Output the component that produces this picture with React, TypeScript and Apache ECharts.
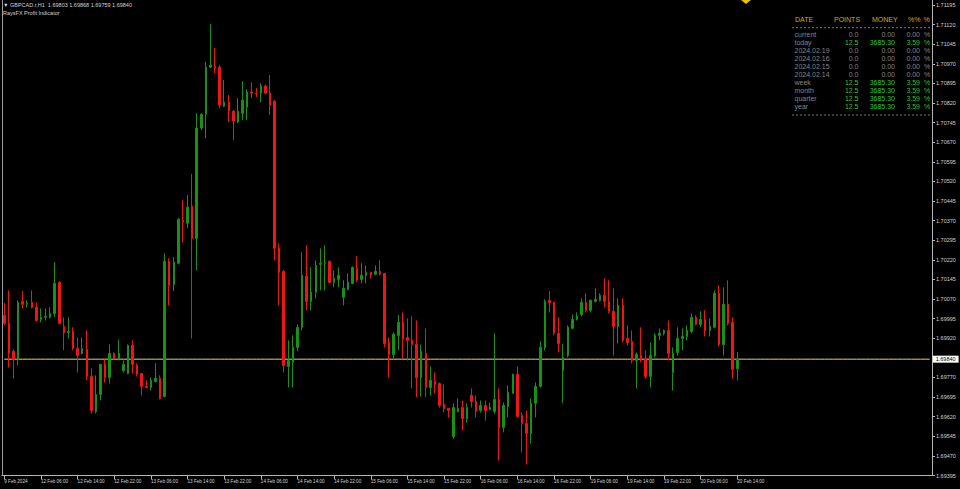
import React, { useEffect, useRef } from "react";
import * as echarts from "echarts";

const SYMBOL = "GBPCAD.r,H1";
const INDICATOR = "RaysFX Profit Indicator";
const BASE = 1.69395;
const TICK_STEP = 0.00075;
const TOP_PRICE = 1.71214;
const TOTAL_SLOTS = 203;

const opens = [
  1.70008, 1.69977, 1.6987, 1.69839, 1.70061, 1.7005, 1.70057, 1.70038, 1.69992, 1.7, 1.7, 1.70015, 1.70134, 1.69965, 1.69942, 1.69946, 1.69881, 1.69862, 1.69877, 1.69774,
  1.6964, 1.69705, 1.6982, 1.6977, 1.69862, 1.69843, 1.69797, 1.69785, 1.69893, 1.69816, 1.69785, 1.69736, 1.69732, 1.69755, 1.69766, 1.69697, 1.70214, 1.70126, 1.70207, 1.70371,
  1.7036, 1.70425, 1.70302, 1.70724, 1.70777, 1.70957, 1.70961, 1.70957, 1.70808, 1.70823, 1.70789, 1.70747, 1.70781, 1.70804, 1.70862, 1.70858, 1.70858, 1.70885, 1.70858, 1.70827,
  1.70264, 1.70176, 1.69812, 1.69828, 1.69885, 1.69962, 1.70157, 1.70061, 1.70096, 1.70203, 1.70207, 1.70214, 1.70134, 1.70145, 1.70077, 1.70107, 1.7013, 1.70188, 1.70145, 1.70161,
  1.70172, 1.70165, 1.70176, 1.70168, 1.69904, 1.69858, 1.69931, 1.69981, 1.69923, 1.69912, 1.69896, 1.6977, 1.69862, 1.69732, 1.69755, 1.69747, 1.69667, 1.69651, 1.69544, 1.6964,
  1.69655, 1.69613, 1.69701, 1.69678, 1.69644, 1.69663, 1.69648, 1.6964, 1.69686, 1.69579, 1.69659, 1.69709, 1.69782, 1.69625, 1.69594, 1.69556, 1.69671, 1.69736, 1.69885, 1.70065,
  1.70057, 1.69939, 1.69797, 1.69854, 1.69958, 1.69992, 1.70011, 1.70057, 1.70027, 1.70061, 1.70065, 1.70084, 1.70061, 1.70023, 1.69965, 1.70046, 1.69919, 1.69908, 1.69835, 1.69854,
  1.69843, 1.69774, 1.69854, 1.69931, 1.69939, 1.6995, 1.69789, 1.69866, 1.69919, 1.69927, 1.69946, 1.7, 1.69973, 1.69992, 1.6995, 1.69962, 1.70092, 1.69896, 1.7005, 1.69981,
  1.69803,
];
const highs = [
  1.70054, 1.70103, 1.69877, 1.70065, 1.701, 1.70065, 1.70103, 1.70057, 1.70034, 1.70034, 1.70038, 1.70211, 1.70138, 1.7, 1.7, 1.69962, 1.69923, 1.69923, 1.6995, 1.69805,
  1.69778, 1.6982, 1.69839, 1.69896, 1.69866, 1.69915, 1.69835, 1.69896, 1.69912, 1.69824, 1.69785, 1.69759, 1.6977, 1.69824, 1.69778, 1.70245, 1.70226, 1.7023, 1.70379, 1.70448,
  1.70467, 1.70548, 1.70781, 1.70781, 1.70977, 1.71122, 1.7103, 1.70965, 1.70908, 1.7085, 1.70793, 1.70839, 1.70904, 1.70873, 1.709, 1.70877, 1.70896, 1.70889, 1.70927, 1.70831,
  1.70283, 1.7018, 1.69912, 1.69931, 1.69973, 1.70249, 1.70276, 1.70191, 1.70218, 1.70264, 1.70276, 1.70218, 1.7018, 1.70191, 1.70142, 1.70168, 1.70195, 1.70234, 1.70207, 1.70199,
  1.70172, 1.70199, 1.70218, 1.70168, 1.69923, 1.69942, 1.70008, 1.70019, 1.69996, 1.70004, 1.69988, 1.69896, 1.69958, 1.69812, 1.69789, 1.69751, 1.69743, 1.69651, 1.69671, 1.6969,
  1.69682, 1.69671, 1.69728, 1.69701, 1.69682, 1.69682, 1.69674, 1.69939, 1.69728, 1.69674, 1.69739, 1.69785, 1.69812, 1.69636, 1.69644, 1.6969, 1.69751, 1.69908, 1.70069, 1.701,
  1.70061, 1.7, 1.699, 1.69969, 1.70011, 1.70019, 1.70073, 1.70092, 1.70069, 1.70111, 1.70092, 1.70149, 1.70142, 1.70111, 1.70073, 1.70073, 1.69969, 1.6995, 1.69866, 1.69962,
  1.69874, 1.69904, 1.69939, 1.69958, 1.69954, 1.69988, 1.69885, 1.69962, 1.69958, 1.69969, 1.70015, 1.70008, 1.70023, 1.70027, 1.69996, 1.70103, 1.70122, 1.70115, 1.70142, 1.7,
  1.69868,
];
const lows = [
  1.69969, 1.69808, 1.69766, 1.69816, 1.70034, 1.70038, 1.70034, 1.69984, 1.69981, 1.69988, 1.69996, 1.7, 1.69973, 1.69874, 1.69919, 1.69874, 1.69789, 1.69858, 1.69759, 1.69632,
  1.69632, 1.69682, 1.69751, 1.69747, 1.69839, 1.69835, 1.69789, 1.69782, 1.69785, 1.69774, 1.69701, 1.69728, 1.6972, 1.69751, 1.69686, 1.69694, 1.70046, 1.701, 1.70203, 1.70287,
  1.70341, 1.69919, 1.7018, 1.70716, 1.70685, 1.70954, 1.70934, 1.708, 1.70804, 1.70747, 1.70678, 1.70743, 1.70754, 1.70754, 1.70839, 1.70843, 1.70823, 1.70854, 1.70774, 1.70218,
  1.70046, 1.69789, 1.69732, 1.69732, 1.6987, 1.6995, 1.70027, 1.70027, 1.70073, 1.70103, 1.70103, 1.7013, 1.70115, 1.70115, 1.70046, 1.70103, 1.70126, 1.70134, 1.7013, 1.7013,
  1.70149, 1.70161, 1.70161, 1.69885, 1.6977, 1.69843, 1.69874, 1.69843, 1.69835, 1.69728, 1.69694, 1.69697, 1.69694, 1.69701, 1.69709, 1.69655, 1.69636, 1.69617, 1.69536, 1.69636,
  1.69567, 1.69598, 1.69655, 1.69617, 1.69636, 1.69605, 1.69644, 1.69632, 1.69452, 1.6956, 1.69617, 1.69709, 1.69617, 1.69483, 1.69437, 1.69517, 1.69617, 1.69732, 1.69874, 1.70019,
  1.69931, 1.69866, 1.69671, 1.69847, 1.69954, 1.69988, 1.70004, 1.70019, 1.70019, 1.70057, 1.70061, 1.70038, 1.70015, 1.69854, 1.699, 1.69904, 1.69893, 1.69824, 1.69728, 1.69828,
  1.69766, 1.69732, 1.69847, 1.69912, 1.69931, 1.69835, 1.6972, 1.69854, 1.69874, 1.69912, 1.69939, 1.69969, 1.69962, 1.69927, 1.69927, 1.69958, 1.69889, 1.69854, 1.69969, 1.69766,
  1.69759,
];
const closes = [
  1.69977, 1.69862, 1.69839, 1.70057, 1.7005, 1.70054, 1.70038, 1.69988, 1.7, 1.70004, 1.70015, 1.7013, 1.69977, 1.69942, 1.69946, 1.69881, 1.69854, 1.69881, 1.69774, 1.69644,
  1.69705, 1.6982, 1.6977, 1.69862, 1.69843, 1.69862, 1.6982, 1.69893, 1.6982, 1.69782, 1.69736, 1.69732, 1.69759, 1.69766, 1.6969, 1.70214, 1.70122, 1.70211, 1.70375, 1.70364,
  1.70421, 1.70302, 1.70724, 1.70777, 1.70957, 1.70965, 1.70954, 1.70812, 1.70823, 1.70789, 1.70751, 1.70789, 1.70831, 1.70862, 1.70858, 1.70856, 1.70885, 1.70858, 1.70812, 1.70264,
  1.70172, 1.69816, 1.69835, 1.69885, 1.69962, 1.70161, 1.70061, 1.70096, 1.70199, 1.70207, 1.70211, 1.70134, 1.70149, 1.70161, 1.70111, 1.70134, 1.70191, 1.70142, 1.70161, 1.70172,
  1.70161, 1.70176, 1.70165, 1.699, 1.69858, 1.69935, 1.69981, 1.69919, 1.69912, 1.69896, 1.6977, 1.6987, 1.69732, 1.69759, 1.69743, 1.69663, 1.69651, 1.69644, 1.69655, 1.69651,
  1.69613, 1.69655, 1.69678, 1.6964, 1.69663, 1.69644, 1.69655, 1.69686, 1.69579, 1.69663, 1.69713, 1.69782, 1.69621, 1.69594, 1.69556, 1.69671, 1.69736, 1.69885, 1.70061, 1.70057,
  1.69939, 1.699, 1.69847, 1.69962, 1.69992, 1.70004, 1.70057, 1.70027, 1.70065, 1.70069, 1.70084, 1.70061, 1.70023, 1.69965, 1.70046, 1.69912, 1.69904, 1.69835, 1.69858, 1.69839,
  1.69774, 1.69854, 1.69931, 1.69939, 1.6995, 1.69862, 1.69862, 1.69919, 1.69927, 1.6995, 1.7, 1.69973, 1.69992, 1.6995, 1.69965, 1.70092, 1.69896, 1.7005, 1.69977, 1.69801,
  1.6984,
];

const timeLabels = [
  "9 Feb 2024", "12 Feb 06:00", "12 Feb 14:00", "12 Feb 22:00", "13 Feb 06:00", "13 Feb 14:00", "13 Feb 22:00",
  "14 Feb 06:00", "14 Feb 14:00", "14 Feb 22:00", "15 Feb 06:00", "15 Feb 14:00", "15 Feb 22:00", "16 Feb 06:00",
  "16 Feb 14:00", "16 Feb 22:00", "19 Feb 06:00", "19 Feb 14:00", "19 Feb 22:00", "20 Feb 06:00", "20 Feb 14:00",
];
const LABEL_EVERY = 8;

const tableHeaders = ["DATE", "POINTS", "MONEY", "%%", "%"];
const tableLabels = ["current", "today", "2024.02.19", "2024.02.16", "2024.02.15", "2024.02.14", "week", "month", "quarter", "year"];
const tablePoints = [0.0, 12.5, 0.0, 0.0, 0.0, 0.0, 12.5, 12.5, 12.5, 12.5];
const tableMoney = [0.0, 3685.3, 0.0, 0.0, 0.0, 0.0, 3685.3, 3685.3, 3685.3, 3685.3];
const tablePercent = [0.0, 3.59, 0.0, 0.0, 0.0, 0.0, 3.59, 3.59, 3.59, 3.59];

const GREEN = "#169216";
const RED = "#f01414";
const AXIS = "#b4b4b4";
const LABEL = "#d2d2d2";
const FONT = '"Liberation Sans", "DejaVu Sans", Arial, sans-serif';
const GOLD = "#d8a422";
const GRAY = "#858585";
const LIME = "#2fc42f";
const PRICE_LINE = "#dcd872";

export default function App() {
  const ref = useRef<HTMLDivElement>(null);

  useEffect(() => {
    if (!ref.current) return;
    const chart = echarts.init(ref.current, null, { renderer: "svg" });

    const slots = Array.from({ length: TOTAL_SLOTS }, (_, i) => String(i));
    const lastIdx = closes.length - 1;
    const current = closes[lastIdx];
    const candleData = opens.map((o, i) => [o - BASE, closes[i] - BASE, lows[i] - BASE, highs[i] - BASE]);
    const priceLineData = slots.map(() => current - BASE);
    const showIdx = (index: number) => index % LABEL_EVERY === 0 && index / LABEL_EVERY < timeLabels.length;

    const fmt5 = (v: number) => v.toFixed(5);
    const header = `\u25BC ${SYMBOL}  ${fmt5(opens[lastIdx])} ${fmt5(highs[lastIdx])} ${fmt5(lows[lastIdx])} ${fmt5(closes[lastIdx])}`;

    const txt = (text: string, x: number, y: number, fill: string, size: number, align: string) => ({
      type: "text",
      x,
      y,
      silent: true,
      style: {
        text,
        fill,
        fontSize: size,
        fontFamily: FONT,
        align,
        textAlign: align,
        verticalAlign: "middle",
        textVerticalAlign: "middle",
      },
    });

    const graphics: any[] = [];
    graphics.push(txt(header, 3, 4.5, LABEL, 5.5, "left"));
    graphics.push(txt(INDICATOR, 3, 12.5, LABEL, 5.5, "left"));
    graphics.push({
      type: "line",
      silent: true,
      shape: { x1: 2.5, y1: 0, x2: 2.5, y2: 476 },
      style: { stroke: "#9a9a9a", lineWidth: 1 },
    });
    graphics.push({
      type: "polygon",
      silent: true,
      shape: { points: [[741, 0], [751, 0], [746, 4]] },
      style: { fill: "#e6c400" },
    });

    // table
    const headerX = [795, 834, 872, 908, 923.5];
    tableHeaders.forEach((h, k) => graphics.push(txt(h, headerX[k], 19, GOLD, 7, "left")));
    [27.7, 115].forEach((y) =>
      graphics.push({
        type: "line",
        silent: true,
        shape: { x1: 792, y1: y, x2: 931, y2: y },
        style: { stroke: "#777777", lineWidth: 1, lineDash: [2, 2] },
      })
    );
    tableLabels.forEach((lab, r) => {
      const y = 34.3 + r * 7.98;
      const c = tablePoints[r] > 0 ? LIME : GRAY;
      graphics.push(txt(lab, 794.5, y, GRAY, 7, "left"));
      graphics.push(txt(tablePoints[r].toFixed(1), 858.5, y, c, 7, "right"));
      graphics.push(txt(tableMoney[r].toFixed(2), 895, y, c, 7, "right"));
      graphics.push(txt(tablePercent[r].toFixed(2), 920, y, c, 7, "right"));
      graphics.push(txt("%", 924, y, c, 7, "left"));
    });

    const option: any = {
      animation: false,
      backgroundColor: "#000000",
      grid: { left: 2, right: 28, top: 0, bottom: 13.5, containLabel: false },
      xAxis: {
        type: "category",
        data: slots,
        boundaryGap: true,
        axisLine: { show: true, onZero: false, lineStyle: { color: AXIS, width: 1 } },
        axisTick: {
          show: true,
          alignWithLabel: true,
          interval: (index: number) => showIdx(index),
          length: 4,
          lineStyle: { color: AXIS },
        },
        axisLabel: {
          interval: (index: number) => showIdx(index),
          formatter: (value: string) => {
            const i = Number(value);
            return showIdx(i) ? timeLabels[i / LABEL_EVERY] : "";
          },
          align: "left",
          fontSize: 4.6,
          fontFamily: FONT,
          color: LABEL,
          margin: 3,
          hideOverlap: false,
        },
        splitLine: { show: false },
      },
      yAxis: {
        type: "value",
        position: "right",
        min: 0,
        max: TOP_PRICE - BASE,
        interval: TICK_STEP,
        axisLine: { show: true, lineStyle: { color: AXIS, width: 1 } },
        axisTick: { show: true, length: 3, lineStyle: { color: AXIS } },
        axisLabel: {
          showMaxLabel: false,
          showMinLabel: true,
          hideOverlap: false,
          formatter: (v: number) => {
            const p = v + BASE;
            if (Math.abs(p - current) < 0.0003) return "";
            return p.toFixed(5);
          },
          fontSize: 5.5,
          fontFamily: FONT,
          color: LABEL,
          margin: 4,
        },
        splitLine: { show: false },
      },
      series: [
        {
          type: "line",
          name: "price",
          data: priceLineData,
          symbol: "none",
          silent: true,
          clip: false,
          z: 1,
          color: PRICE_LINE,
          lineStyle: { color: PRICE_LINE, width: 1, type: "solid" },
          endLabel: {
            show: true,
            distance: 3,
            formatter: () => current.toFixed(5),
            backgroundColor: "#ffffff",
            color: "#000000",
            fontSize: 5.5,
            fontFamily: FONT,
            padding: [0.5, 3],
          },
        },
        {
          type: "candlestick",
          data: candleData,
          barWidth: 2,
          clip: true,
          silent: true,
          z: 2,
          itemStyle: {
            color: GREEN,
            color0: RED,
            borderColor: GREEN,
            borderColor0: RED,
            borderWidth: 1,
          },
        },
      ],
      graphic: { elements: graphics },
    };

    chart.setOption(option);
    return () => chart.dispose();
  }, []);

  return (
    <div
      ref={ref}
      style={{ position: "fixed", left: 0, top: 0, width: 960, height: 489, background: "#000" }}
    />
  );
}
